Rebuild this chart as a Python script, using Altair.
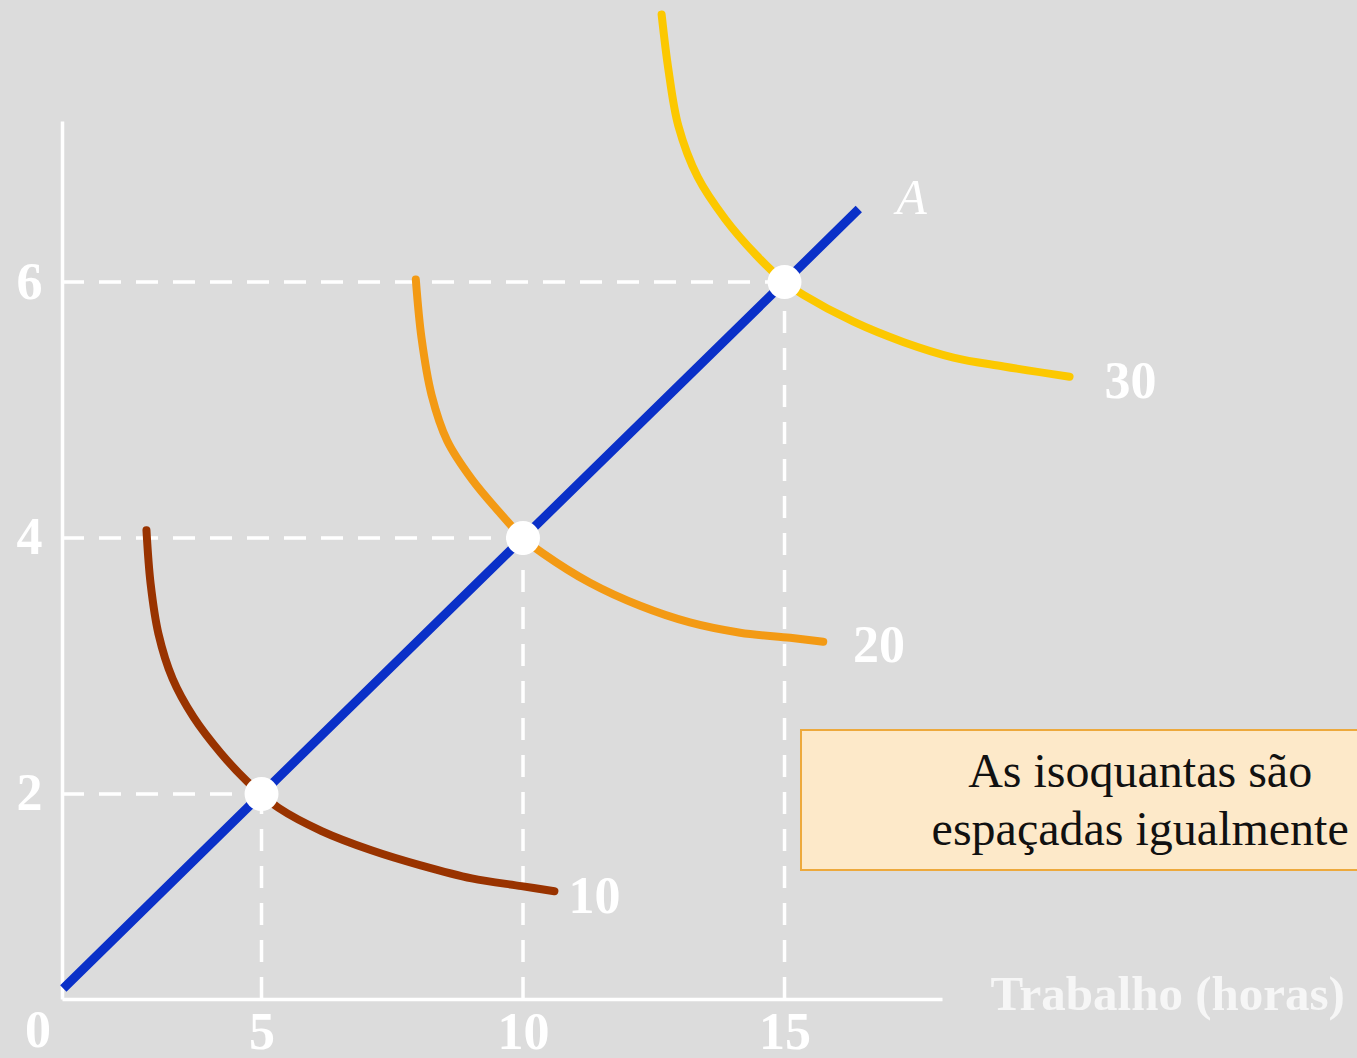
import altair as alt
import pandas as pd

# Axis ranges and tick values
X_DOMAIN = [1.185, 18.011]
Y_DOMAIN = [0.398, 7.258]
X_TICKS = [5, 10, 15]
Y_TICKS = [2, 4, 6]

# Isoquants (labour on x, capital on y)
Q10_X = [2.80, 2.88, 3.03, 3.30, 3.70, 4.22, 4.72, 5.00, 5.33, 6.15, 7.10, 8.06, 9.02, 9.97, 10.60]
Q10_Y = [4.06, 3.64, 3.25, 2.90, 2.60, 2.32, 2.10, 2.00, 1.89, 1.71, 1.56, 1.44, 1.34, 1.28, 1.24]
Q20_X = [7.95, 8.06, 8.25, 8.55, 9.02, 9.55, 10.00, 10.38, 11.28, 12.24, 13.19, 14.15, 15.11, 15.74]
Q20_Y = [6.02, 5.56, 5.12, 4.76, 4.46, 4.20, 4.00, 3.88, 3.65, 3.47, 3.34, 3.26, 3.22, 3.19]
Q30_X = [12.65, 12.78, 12.97, 13.34, 13.87, 14.46, 15.00, 15.36, 16.32, 17.28, 18.23, 19.19, 20.45]
Q30_Y = [8.09, 7.66, 7.22, 6.82, 6.49, 6.21, 6.00, 5.90, 5.69, 5.53, 5.41, 5.34, 5.26]

# Expansion path A through the efficient input combinations
A_X = [1.21, 5, 10, 15, 16.42]
A_Y = [0.48, 2, 4, 6, 6.57]

# Efficient combinations (labour, capital)
DOT_X = [5, 10, 15]
DOT_Y = [2, 4, 6]

# Output labels of each isoquant and of the path
LABEL_TEXT = ["10", "20", "30"]
LABEL_X = [10.87, 16.31, 21.12]
LABEL_Y = [1.195, 3.156, 5.219]
PATH_LABEL = "A"
PATH_LABEL_X = 17.43
PATH_LABEL_Y = 6.648

# Note box
NOTE_TEXT = "As isoquantas são\nespaçadas igualmente"
NOTE_BOX_X = [15.315, 26.5]
NOTE_BOX_Y = [1.406, 2.5]
NOTE_TEXT_X = 21.80
NOTE_TEXT_Y = 2.055

BG = "#dcdcdc"
SERIF = "Liberation Serif"

xs = alt.Scale(domain=X_DOMAIN, nice=False, zero=False)
ys = alt.Scale(domain=Y_DOMAIN, nice=False, zero=False)

x_axis = alt.Axis(
    values=X_TICKS, ticks=False, grid=False, labelOverlap=False,
    domainColor="white", domainWidth=3.5,
    labelColor="white", labelFont=SERIF, labelFontWeight="bold", labelFontSize=52,
    labelPadding=8,
    title="Trabalho (horas)", titleColor="#f6f6f6", titleFont=SERIF,
    titleFontWeight="bold", titleFontSize=49, titleAlign="left",
    titleBaseline="alphabetic", titleX=928, titleY=10, titleAnchor="start",
)
y_axis = alt.Axis(
    values=Y_TICKS, ticks=False, grid=False, labelOverlap=False,
    domainColor="white", domainWidth=3.5,
    labelColor="white", labelFont=SERIF, labelFontWeight="bold", labelFontSize=52,
    labelPadding=20, title=None,
)

X = alt.X("x:Q", scale=xs, axis=x_axis)
Y = alt.Y("y:Q", scale=ys, axis=y_axis)

dots = pd.DataFrame({"x": DOT_X, "y": DOT_Y})
guides_h = dots.assign(x0=X_DOMAIN[0])
guides_v = dots.assign(y0=Y_DOMAIN[0])

h_rules = alt.Chart(guides_h).mark_rule(
    color="white", strokeWidth=3.5, strokeDash=[22, 15]
).encode(x=alt.X("x0:Q", scale=xs, axis=x_axis), x2="x:Q", y=Y)

v_rules = alt.Chart(guides_v).mark_rule(
    color="white", strokeWidth=3.5, strokeDash=[22, 15]
).encode(x=X, y=alt.Y("y0:Q", scale=ys, axis=y_axis), y2="y:Q")


def isoquant(xv, yv, color):
    df = pd.DataFrame({"x": xv, "y": yv, "i": range(len(xv))})
    return alt.Chart(df).mark_line(
        color=color, strokeWidth=8, strokeCap="round", interpolate="catmull-rom"
    ).encode(x=X, y=Y, order="i:Q")


q10 = isoquant(Q10_X, Q10_Y, "#993300")
q20 = isoquant(Q20_X, Q20_Y, "#f39a14")
q30 = isoquant(Q30_X, Q30_Y, "#fcc800")

path_a = alt.Chart(pd.DataFrame({"x": A_X, "y": A_Y})).mark_line(
    color="#0a30c8", strokeWidth=9, strokeCap="butt"
).encode(x=X, y=Y)

points = alt.Chart(dots).mark_circle(
    color="white", opacity=1, size=1150
).encode(x=X, y=Y)

labels = alt.Chart(
    pd.DataFrame({"x": LABEL_X, "y": LABEL_Y, "t": LABEL_TEXT})
).mark_text(
    font=SERIF, fontWeight="bold", fontSize=52, color="white",
    align="left", baseline="middle"
).encode(x=X, y=Y, text="t:N")

a_label = alt.Chart(
    pd.DataFrame({"x": [PATH_LABEL_X], "y": [PATH_LABEL_Y], "t": [PATH_LABEL]})
).mark_text(
    font=SERIF, fontStyle="italic", fontSize=50, color="white",
    align="center", baseline="middle"
).encode(x=X, y=Y, text="t:N")

origin = alt.Chart(
    pd.DataFrame({"x": [X_DOMAIN[0]], "y": [Y_DOMAIN[0]], "t": ["0"]})
).mark_text(
    font=SERIF, fontWeight="bold", fontSize=52, color="white",
    align="center", baseline="middle", dx=-24, dy=32
).encode(x=X, y=Y, text="t:N")

note_box = alt.Chart(
    pd.DataFrame({"x": [NOTE_BOX_X[0]], "x2": [NOTE_BOX_X[1]],
                  "y": [NOTE_BOX_Y[0]], "y2": [NOTE_BOX_Y[1]]})
).mark_rect(
    fill="#fde9c9", stroke="#eda93c", strokeWidth=2
).encode(x=X, x2="x2:Q", y=Y, y2="y2:Q")

note_text = alt.Chart(
    pd.DataFrame({"x": [NOTE_TEXT_X], "y": [NOTE_TEXT_Y], "t": [NOTE_TEXT]})
).mark_text(
    font=SERIF, fontSize=48, color="#111111", align="center",
    baseline="alphabetic", lineBreak="\n", lineHeight=58
).encode(x=X, y=Y, text="t:N")

chart = alt.layer(
    h_rules, v_rules, note_box, note_text, q10, q20, q30, path_a, points,
    labels, a_label, origin,
).properties(
    width=880,
    height=878,
    background=BG,
    padding={"left": 62, "top": 121, "right": 415, "bottom": 59},
    autosize=alt.AutoSizeParams(type="none"),
).configure_view(stroke=None)

chart.save("out.html", embed_options={"renderer": "svg", "actions": False})
